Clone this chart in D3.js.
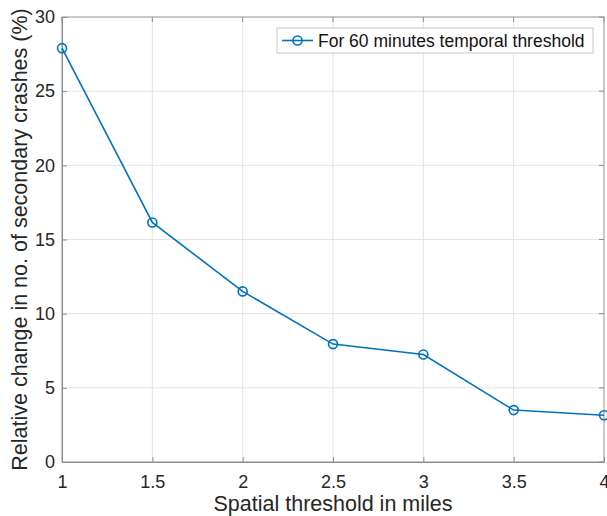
<!DOCTYPE html>
<html>
<head>
<meta charset="utf-8">
<script src="https://cdn.jsdelivr.net/npm/d3@7"></script>
<style>
  html, body { margin: 0; padding: 0; background: #fff; }
  svg { display: block; font-family: "Liberation Sans", Arial, Helvetica, sans-serif; }
</style>
</head>
<body>
<svg id="chart" width="607" height="516"></svg>
<script>
// Spatial thresholds (miles) and relative change in secondary crashes (%)
const spatialThresholds = [1, 1.5, 2, 2.5, 3, 3.5, 4];
const relativeChange = [27.9, 16.15, 11.5, 7.95, 7.25, 3.5, 3.15];
const xTicks = [1, 1.5, 2, 2.5, 3, 3.5, 4];
const yTicks = [0, 5, 10, 15, 20, 25, 30];
const seriesName = "For 60 minutes temporal threshold";

const svg = d3.select("#chart");
const m = { left: 62, right: 604, top: 17, bottom: 462 };

const x = d3.scaleLinear().domain([1, 4]).range([m.left, m.right]);
const y = d3.scaleLinear().domain([0, 30]).range([m.bottom, m.top]);

const axisColor = "#262626";
const lineColor = "#0072BD";

// grid
const g = svg.append("g");
g.selectAll("line.gx").data(xTicks).join("line")
  .attr("x1", d => x(d)).attr("x2", d => x(d))
  .attr("y1", m.top).attr("y2", m.bottom)
  .attr("stroke", "#e4e4e4").attr("stroke-width", 1);
g.selectAll("line.gy").data(yTicks).join("line")
  .attr("x1", m.left).attr("x2", m.right)
  .attr("y1", d => y(d)).attr("y2", d => y(d))
  .attr("stroke", "#e4e4e4").attr("stroke-width", 1);

// box
svg.append("rect")
  .attr("x", m.left).attr("y", m.top)
  .attr("width", m.right - m.left).attr("height", m.bottom - m.top)
  .attr("fill", "none").attr("stroke", "#a0a0a0").attr("stroke-width", 1);

// axes with inward ticks
const xAxis = d3.axisBottom(x).tickValues(xTicks).tickSizeInner(-5).tickSizeOuter(0).tickPadding(13)
  .tickFormat(d3.format("~g"));
const yAxis = d3.axisLeft(y).tickValues(yTicks).tickSizeInner(-5).tickSizeOuter(0).tickPadding(7);

const gx = svg.append("g").attr("transform", `translate(0,${m.bottom})`).call(xAxis);
const gy = svg.append("g").attr("transform", `translate(${m.left},0)`).call(yAxis);
[gx, gy].forEach(a => {
  a.select(".domain").attr("stroke", "#8c8c8c");
  a.selectAll(".tick line").attr("stroke", "#8c8c8c");
  a.selectAll(".tick text").attr("fill", axisColor)
    .style("font-size", "18px").style("font-family", "Liberation Sans, Arial, sans-serif");
});
// top and right tick marks
svg.append("g").selectAll("line").data(xTicks).join("line")
  .attr("x1", d => x(d)).attr("x2", d => x(d)).attr("y1", m.top).attr("y2", m.top + 5)
  .attr("stroke", "#8c8c8c");
svg.append("g").selectAll("line").data(yTicks).join("line")
  .attr("x1", m.right - 5).attr("x2", m.right).attr("y1", d => y(d)).attr("y2", d => y(d))
  .attr("stroke", "#8c8c8c");

// axis labels
svg.append("text")
  .attr("x", 333).attr("y", 511)
  .attr("text-anchor", "middle").attr("fill", axisColor)
  .style("font-size", "21.5px")
  .text("Spatial threshold in miles");
svg.append("text")
  .attr("transform", `translate(27,${(m.top + m.bottom) / 2}) rotate(-90)`)
  .attr("text-anchor", "middle").attr("fill", axisColor)
  .style("font-size", "21.5px")
  .text("Relative change in no. of secondary crashes (%)");

// series
const pts = spatialThresholds.map((d, i) => [d, relativeChange[i]]);
svg.append("path")
  .datum(pts)
  .attr("fill", "none").attr("stroke", lineColor).attr("stroke-width", 1.6)
  .attr("d", d3.line().x(d => x(d[0])).y(d => y(d[1])));
svg.append("g").selectAll("circle").data(pts).join("circle")
  .attr("cx", d => x(d[0])).attr("cy", d => y(d[1])).attr("r", 4.5)
  .attr("fill", "none").attr("stroke", lineColor).attr("stroke-width", 1.6);

// legend
const lg = svg.append("g");
lg.append("rect").attr("x", 277).attr("y", 28).attr("width", 316).attr("height", 25)
  .attr("fill", "#fff").attr("stroke", "#c8c8c8").attr("stroke-width", 1);
lg.append("line").attr("x1", 282).attr("x2", 313).attr("y1", 40.5).attr("y2", 40.5)
  .attr("stroke", lineColor).attr("stroke-width", 1.6);
lg.append("circle").attr("cx", 297.5).attr("cy", 40.5).attr("r", 4.5)
  .attr("fill", "none").attr("stroke", lineColor).attr("stroke-width", 1.6);
lg.append("text").attr("x", 318).attr("y", 47).attr("fill", "#111")
  .style("font-size", "17.5px").text(seriesName);
</script>
</body>
</html>
